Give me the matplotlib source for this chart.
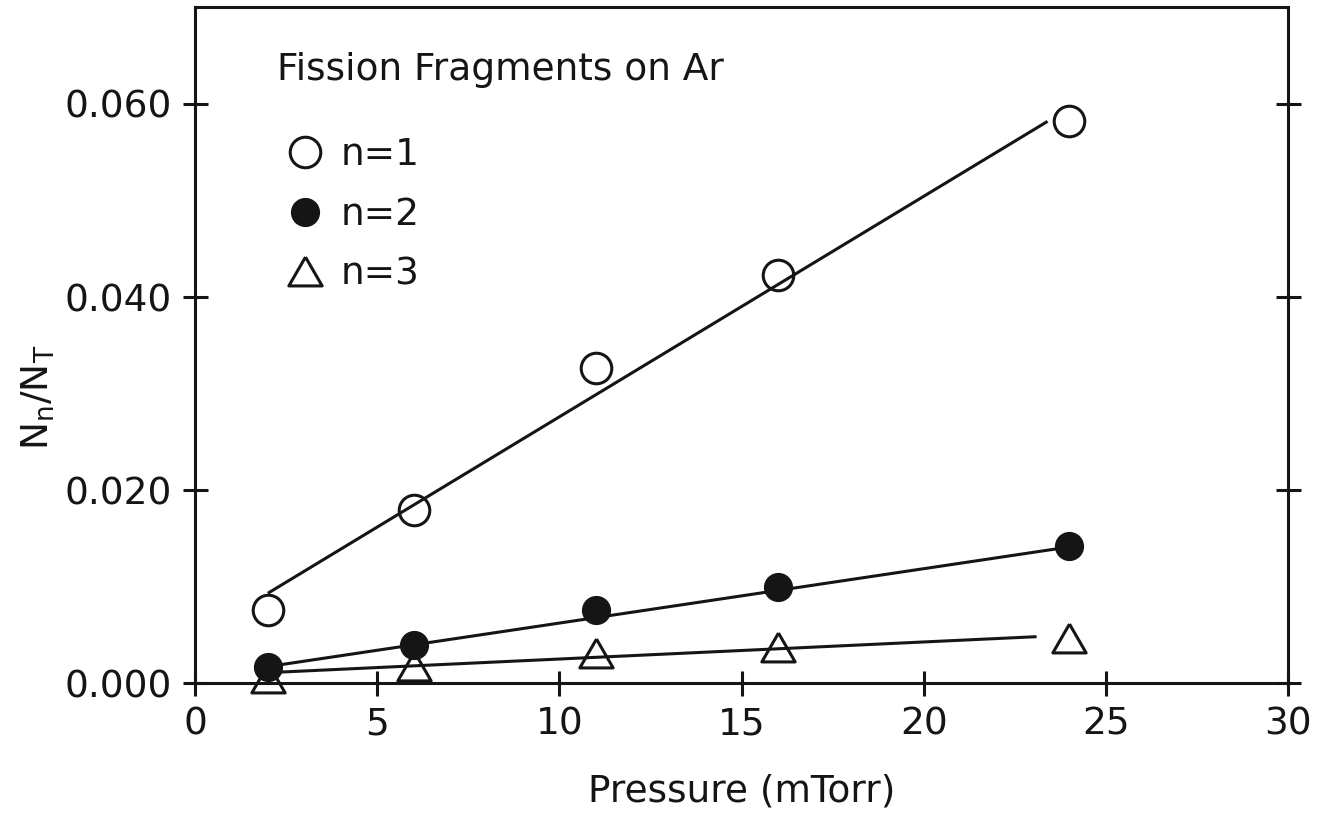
import matplotlib
matplotlib.use('Agg')
import matplotlib.pyplot as plt
from matplotlib.lines import Line2D

# Pressões medidas (mTorr) e frações N_n/N_T para cada n
pressure = [2, 6, 11, 16, 24]
ratio_n1 = [0.0076, 0.0179, 0.0326, 0.0423, 0.0582]
ratio_n2 = [0.0017, 0.0039, 0.0076, 0.0100, 0.0142]
ratio_n3 = [0.0005, 0.0018, 0.0031, 0.0037, 0.0047]

# Retas ajustadas (extremos)
fit_x_n1 = [2.0, 23.4]
fit_y_n1 = [0.0093, 0.0582]
fit_x_n2 = [2.0, 24.0]
fit_y_n2 = [0.0017, 0.0141]
fit_x_n3 = [2.0, 23.1]
fit_y_n3 = [0.00107, 0.0048]

labels = ['n=1', 'n=2', 'n=3']
x_ticks = [0, 5, 10, 15, 20, 25, 30]
y_ticks = [0.0, 0.02, 0.04, 0.06]

ink = '#151515'
fs = 27
plt.rcParams['font.family'] = 'DejaVu Sans'
plt.rcParams['mathtext.default'] = 'regular'

# triângulo equilátero para n=3
tri = [(0, 0.866), (-1, -0.866), (1, -0.866), (0, 0.866)]

estilo_n1 = dict(ls='none', marker='o', ms=22, mfc='none', mec=ink, mew=2.2)
estilo_n2 = dict(ls='none', marker='o', ms=20, mfc=ink, mec=ink, mew=1)
estilo_n3 = dict(ls='none', marker=tri, ms=24, mfc='none', mec=ink, mew=2.2)

fig = plt.figure(figsize=(13.2, 8.13), dpi=100)
ax = fig.add_axes([195 / 1320, 130 / 813, 1093 / 1320, 675.5 / 813])

ax.plot(fit_x_n1, fit_y_n1, color=ink, lw=2.2, solid_capstyle='butt')
ax.plot(fit_x_n2, fit_y_n2, color=ink, lw=2.2, solid_capstyle='butt')
ax.plot(fit_x_n3, fit_y_n3, color=ink, lw=2.2, solid_capstyle='butt')

ax.plot(pressure, ratio_n1, clip_on=False, **estilo_n1)
ax.plot(pressure, ratio_n2, clip_on=False, **estilo_n2)
ax.plot(pressure, ratio_n3, clip_on=False, **estilo_n3)

ax.set_xlim(0, 30)
ax.set_ylim(0, 0.07)
ax.set_xticks(x_ticks)
ax.set_yticks(y_ticks)
ax.set_yticklabels(['%.3f' % v for v in y_ticks])

for side in ['left', 'right', 'top', 'bottom']:
    ax.spines[side].set_linewidth(2.2)
    ax.spines[side].set_color(ink)

ax.tick_params(axis='both', direction='inout', length=18, width=2.2, color=ink,
               labelsize=fs, labelcolor=ink, pad=8)
ax.tick_params(axis='y', right=True)

ax.set_xlabel('Pressure (mTorr)', fontsize=fs, color=ink, labelpad=22)
ax.set_ylabel('N$_n$/N$_T$', fontsize=fs, color=ink, labelpad=5, y=0.423)

ax.text(0.075, 0.907, 'Fission Fragments on Ar', transform=ax.transAxes,
        fontsize=fs, color=ink, va='center', ha='left')

handles = [Line2D([], [], **estilo_n1),
           Line2D([], [], **estilo_n2),
           Line2D([], [], **estilo_n3)]
ax.legend(handles, labels, loc='upper left', bbox_to_anchor=(0.0833, 0.808),
          frameon=False, fontsize=fs, handlelength=1.0, handletextpad=0.45,
          labelspacing=0.63, borderpad=0, borderaxespad=0, labelcolor=ink)

fig.savefig('out.png', dpi=100)
